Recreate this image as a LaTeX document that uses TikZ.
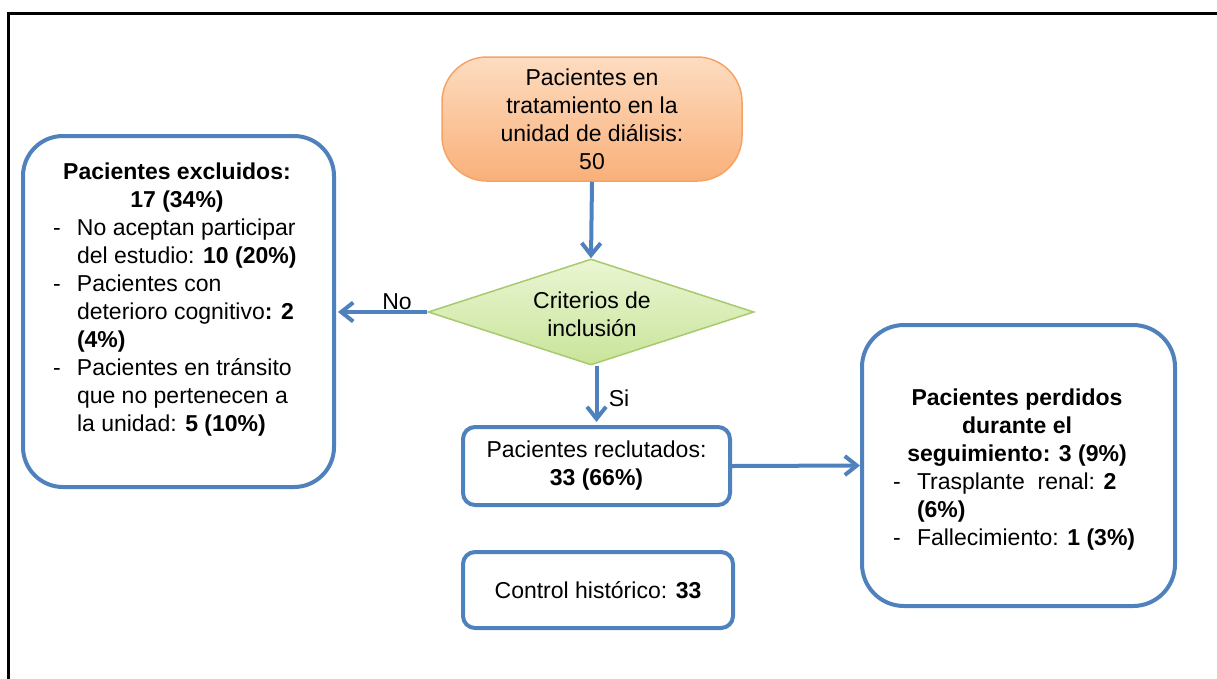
\documentclass[tikz,border=0pt]{standalone}
\usepackage{fontspec}
\setmainfont{Liberation Sans}
\usetikzlibrary{shapes.geometric,arrows.meta}
\definecolor{bl}{HTML}{4F81BD}
\definecolor{orbrd}{HTML}{F6A365}
\definecolor{ortop}{HTML}{FDDCC0}
\definecolor{orbot}{HTML}{F9B07A}
\definecolor{grbrd}{HTML}{A8C96E}
\definecolor{grtop}{HTML}{EAF6D3}
\definecolor{grbot}{HTML}{C9E49A}
\begin{document}
\begin{tikzpicture}[x=1pt,y=-1pt,
  txt/.style={font=\fontsize{23}{28}\selectfont, inner sep=0pt, align=center},
  roundbox/.style={draw=bl, line width=4pt, rounded corners=#1, fill=white},
  arr/.style={draw=bl, line width=4pt, -{Straight Barb[length=12pt,width=19pt]}},
]
\useasboundingbox (0,0) rectangle (1217,678);
\clip (0,0) rectangle (1217,678);
\draw[line width=3pt] (8.5,700) -- (8.5,13.5) -- (1240,13.5);

% excluded box
\node[roundbox=40pt, minimum width=311pt, minimum height=351pt] (excl) at (178.5,311.5) {};
\node[txt] (excltxt) at (177,300) {\begin{tabular}{@{}p{24pt}@{}p{224pt}@{}}
\multicolumn{2}{@{}c@{}}{\bfseries Pacientes excluidos:}\\
\multicolumn{2}{@{}c@{}}{\bfseries 17 (34\%)}\\
- & No aceptan participar\\
  & del estudio: \textbf{10 (20\%)}\\
- & Pacientes con\\
  & deterioro cognitivo\textbf{: 2}\\
  & \textbf{(4\%)}\\
- & Pacientes en tránsito\\
  & que no pertenecen a\\
  & la unidad: \textbf{5 (10\%)}
\end{tabular}};

% lost box
\node[roundbox=42pt, minimum width=313pt, minimum height=281pt] (lost) at (1018.5,465.5) {};
\node[txt] (losttxt) at (1017,470) {\begin{tabular}{@{}p{24pt}@{}p{224pt}@{}}
\multicolumn{2}{@{}c@{}}{\bfseries Pacientes perdidos}\\
\multicolumn{2}{@{}c@{}}{\bfseries durante el}\\
\multicolumn{2}{@{}c@{}}{\bfseries seguimiento: 3 (9\%)}\\
- & Trasplante\ \ renal: \textbf{2}\\
  & \textbf{(6\%)}\\
- & Fallecimiento: \textbf{1 (3\%)}
\end{tabular}};

% top
\node[txt, draw=orbrd, line width=1.5pt, rounded corners=45pt, top color=ortop, bottom color=orbot,
      minimum width=300pt, minimum height=124pt] (top) at (592,119)
      {Pacientes en\\tratamiento en la\\unidad de diálisis:\\50};

% diamond
\node[diamond, draw=grbrd, line width=1.5pt, top color=grtop, bottom color=grbot,
      minimum width=326pt, minimum height=106pt, inner sep=0pt] (dia) at (591,312) {};
\node[txt] (diatxt) at (592,314) {Criterios de\\inclusión};

% recruited & control
\node[txt, roundbox=12pt, minimum width=267pt, minimum height=78pt] (rec) at (596.5,466)
      {Pacientes reclutados:\\\textbf{33 (66\%)}};
\node[txt, roundbox=12pt, minimum width=270pt, minimum height=76pt] (ctrl) at (598,590)
      {Control histórico: \textbf{33}};

% labels
\node[txt] (nolab) at (397,302) {No};
\node[txt] (silab) at (619,398) {Si};

% arrows
\draw[arr] (top.south) -- (dia.north);
\draw[arr, shorten >=2pt] (dia.west) -- (dia.west -| excl.east);
\draw[arr, shorten >=3pt] (dia.south -| rec.north) -- (rec.north);
\draw[arr] (rec.east) -- (lost.west);
\end{tikzpicture}
\end{document}
